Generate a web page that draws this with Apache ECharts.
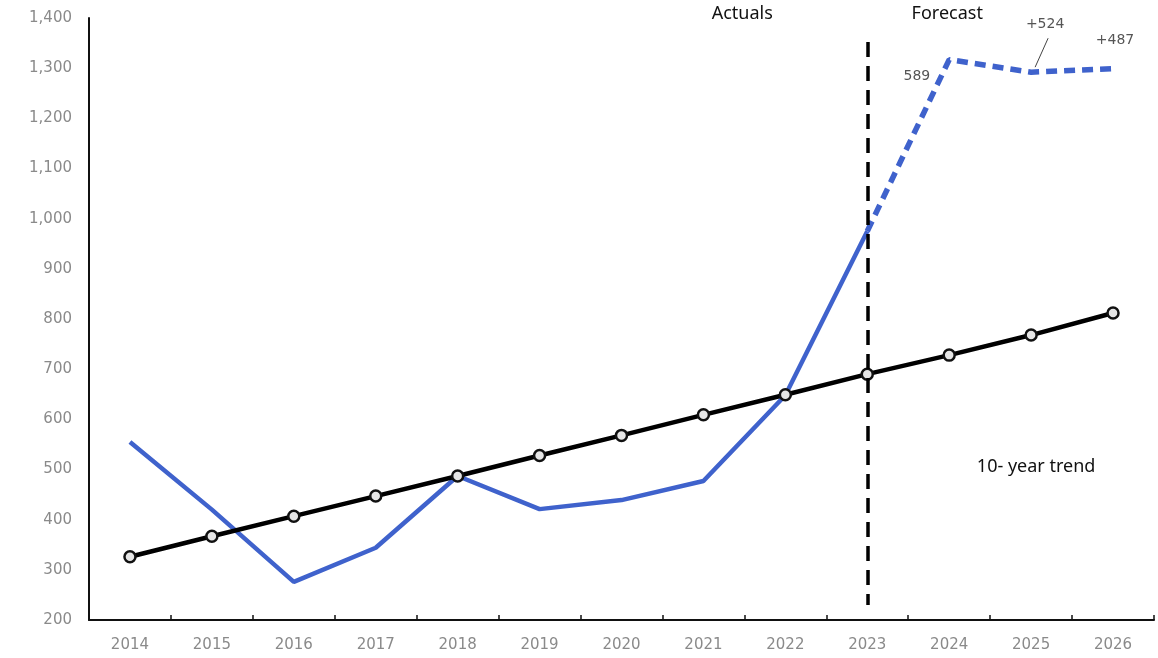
<!DOCTYPE html>
<html>
<head>
<meta charset="utf-8">
<script src="https://cdn.jsdelivr.net/npm/echarts@6/dist/echarts.min.js"></script>
<style>
  html, body { margin: 0; padding: 0; background: #fff; }
  #chart { width: 1158px; height: 658px; }
</style>
</head>
<body>
<div id="chart"></div>
<script>
// Years on the category axis
const years = ['2014', '2015', '2016', '2017', '2018', '2019', '2020', '2021', '2022', '2023', '2024', '2025', '2026'];

// Reported values (solid blue line)
const actuals = [555, 420, 276, 344, 487, 421, 439, 477, 648, 975, null, null, null];

// Projected values (dashed blue line), joined to the last actual
const forecast = [null, null, null, null, null, null, null, null, null, 975, 1317, 1292, 1299];

// Ten-year linear trend (black line with markers)
const trend = [326, 367, 407, 447, 487, 528, 568, 609, 649, 690, 728, 768, 812];

// Gap between forecast and trend, written next to each forecast point
const gapLabels = [null, null, null, null, null, null, null, null, null, null, '589', '+524', '+487'];

// Year where actuals end and the forecast begins
const splitYear = '2023';

const axisFont = 'DejaVu Sans';
const textFont = 'Noto Sans';

const chart = echarts.init(document.getElementById('chart'), null, { renderer: 'canvas' });

const forecastData = forecast.map((v, i) => {
  if (v == null) return null;
  const item = { value: v };
  if (gapLabels[i]) {
    let label;
    if (i === 10) {
      label = { show: true, position: 'left', distance: 18, offset: [0, 17] };
    } else if (i === 11) {
      label = { show: true, position: 'top', distance: 4, offset: [14, -36] };
    } else {
      label = { show: true, position: 'top', distance: 4, offset: [2, -16] };
    }
    label.formatter = gapLabels[i];
    label.color = '#555';
    label.fontFamily = axisFont;
    label.fontSize = 14;
    item.label = label;
  }
  return item;
});

const option = {
  animation: false,
  backgroundColor: '#ffffff',
  grid: { left: 89, right: 4, top: 18, bottom: 38, containLabel: false },
  xAxis: {
    type: 'category',
    data: years,
    boundaryGap: true,
    axisLine: { show: true, lineStyle: { color: '#111', width: 2 } },
    axisTick: { show: true, inside: true, length: 5, lineStyle: { color: '#111', width: 1.5 } },
    axisLabel: { color: '#8a8a8a', fontFamily: axisFont, fontSize: 15, margin: 18 },
    splitLine: { show: false }
  },
  yAxis: {
    type: 'value',
    min: 200,
    max: 1400,
    interval: 100,
    axisLine: { show: true, lineStyle: { color: '#111', width: 2 } },
    axisTick: { show: false },
    splitLine: { show: false },
    axisLabel: {
      color: '#8a8a8a',
      fontFamily: axisFont,
      fontSize: 15,
      margin: 17,
      formatter: v => v.toLocaleString('en-US')
    }
  },
  series: [
    {
      name: 'Actuals',
      type: 'line',
      data: actuals,
      showSymbol: false,
      symbol: 'none',
      lineStyle: { color: '#3f62cc', width: 4.5 },
      z: 3,
      markLine: {
        silent: true,
        symbol: ['none', 'none'],
        label: { show: false },
        lineStyle: { color: '#000', width: 3.5, type: [15, 9] },
        data: [[
          { coord: [splitYear, 1352] },
          { coord: [splitYear, 230] }
        ]]
      }
    },
    {
      name: 'Forecast',
      type: 'line',
      data: forecastData,
      symbol: 'circle',
      symbolSize: 2,
      showSymbol: true,
      itemStyle: { color: 'rgba(0,0,0,0)', borderWidth: 0 },
      lineStyle: { color: '#3f62cc', width: 5.5, type: [11, 7] },
      z: 3
    },
    {
      name: '10- year trend',
      type: 'line',
      data: trend,
      symbol: 'circle',
      symbolSize: 11,
      showSymbol: true,
      itemStyle: { color: '#e6e6e6', borderColor: '#111', borderWidth: 2.5 },
      lineStyle: { color: '#000', width: 4.5 },
      z: 4
    }
  ]
};

chart.setOption(option);

// Header captions either side of the split line, the trend caption,
// and a short leader from the 2025 forecast point up to its gap label.
const splitPx = chart.convertToPixel({ xAxisIndex: 0, yAxisIndex: 0 }, [splitYear, 1400]);
const p2025 = chart.convertToPixel({ xAxisIndex: 0, yAxisIndex: 0 }, ['2025', forecast[11]]);
const pTrend = chart.convertToPixel({ xAxisIndex: 0, yAxisIndex: 0 }, ['2025', 500]);

chart.setOption({
  graphic: [
    {
      type: 'text',
      x: splitPx[0] - 125,
      y: 5,
      style: { text: 'Actuals', fill: '#111', font: '18px "' + textFont + '"', textAlign: 'center' }
    },
    {
      type: 'text',
      x: splitPx[0] + 80,
      y: 5,
      style: { text: 'Forecast', fill: '#111', font: '18px "' + textFont + '"', textAlign: 'center' }
    },
    {
      type: 'text',
      x: pTrend[0] + 5,
      y: pTrend[1] - 12,
      style: { text: '10- year trend', fill: '#111', font: '18px "' + textFont + '"', textAlign: 'center' }
    },
    {
      type: 'line',
      shape: { x1: p2025[0] + 4, y1: p2025[1] - 5, x2: p2025[0] + 17, y2: p2025[1] - 34 },
      style: { stroke: '#444', lineWidth: 1 }
    }
  ]
});
</script>
</body>
</html>
